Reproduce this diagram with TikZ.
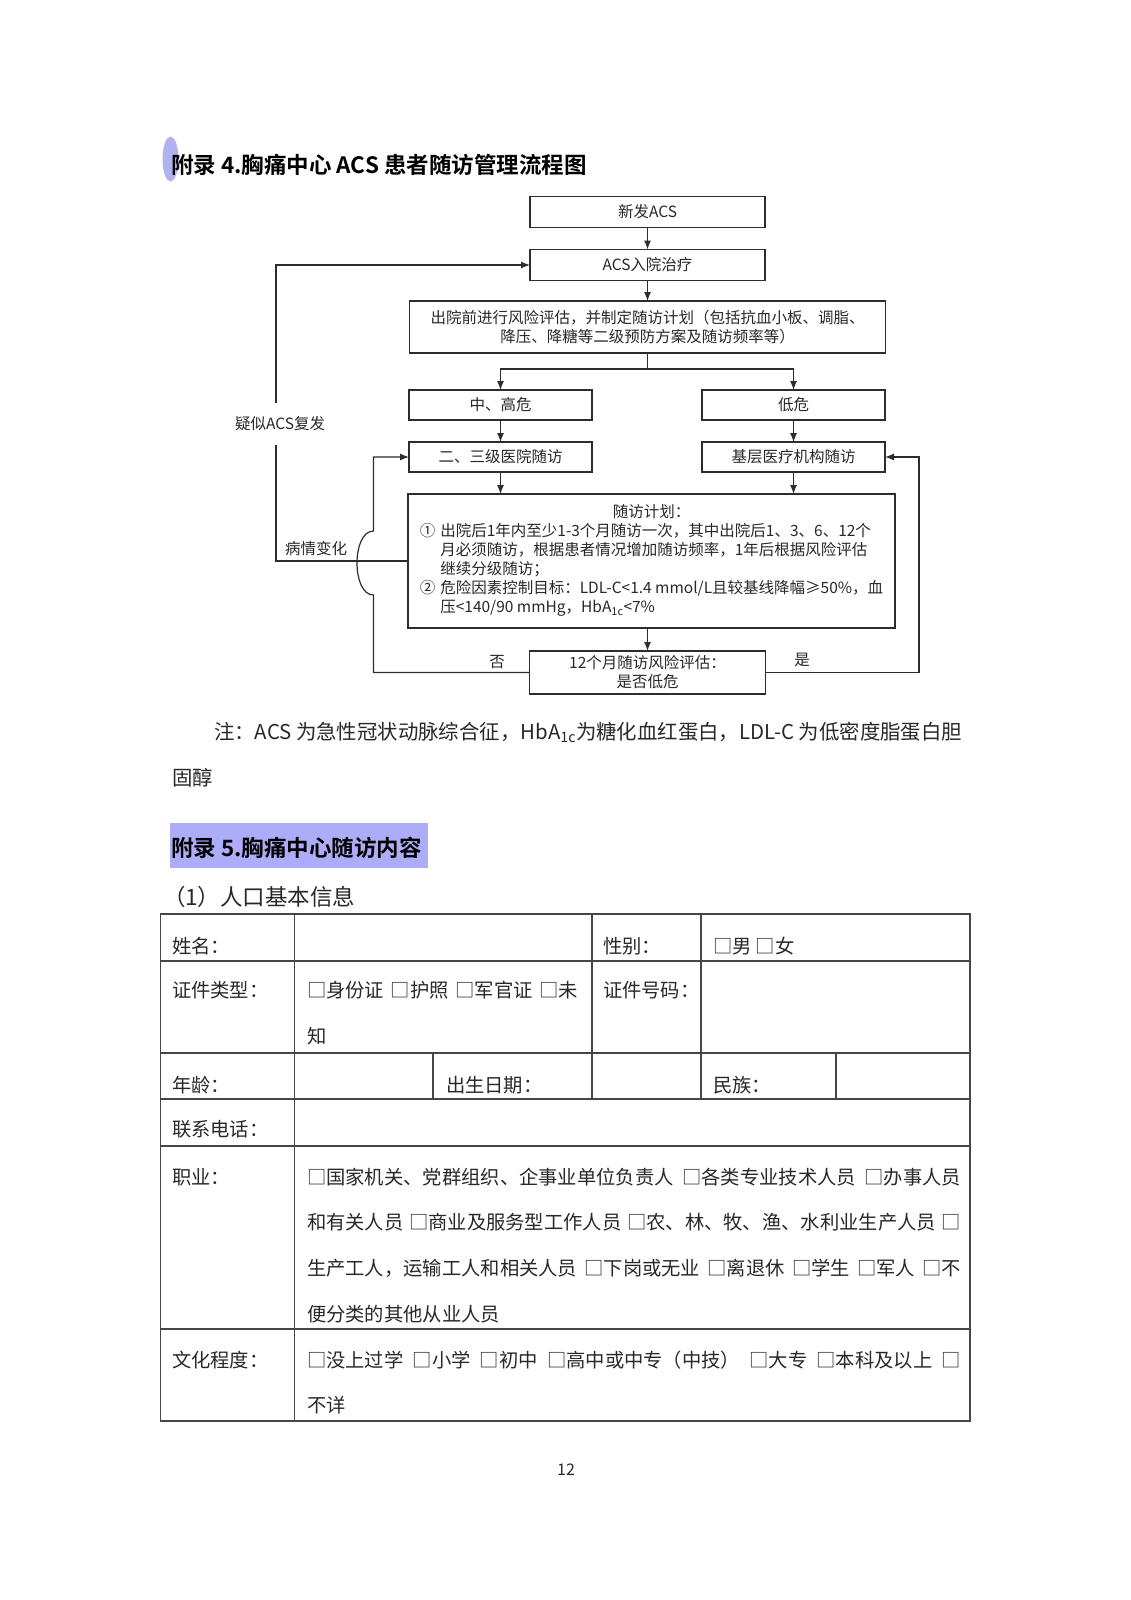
\documentclass[tikz,border=0pt]{standalone}
\usepackage{fontspec}
\setmainfont{Noto Sans CJK SC}[BoldFont={Noto Sans CJK SC Bold}]
\usepackage{tikz}
\usetikzlibrary{arrows.meta,calc,positioning}

\definecolor{linegray}{RGB}{45,45,45}
\definecolor{rulegray}{RGB}{70,70,70}
\definecolor{inkgray}{RGB}{40,40,40}
\definecolor{hlblue}{RGB}{172,172,248}
\definecolor{dotblue}{RGB}{178,178,240}

\begin{document}
\begin{tikzpicture}[x=1pt,y=-1pt,
  >={Latex[length=9pt,width=7pt]},
  every node/.style={inner sep=0pt,outer sep=0pt,text=inkgray},
  fcbox/.style={draw=linegray,line width=1.2pt,minimum height=30pt,
    font=\fontsize{15.5pt}{19pt}\selectfont},
  fclink/.style={draw=linegray,line width=1.2pt},
  fclabel/.style={font=\fontsize{15.5pt}{19pt}\selectfont},
  bodytext/.style={anchor=west,font=\fontsize{20.4pt}{26pt}\selectfont},
  headtext/.style={anchor=west,font=\fontsize{22.5pt}{27pt}\selectfont\bfseries,
    text=black},
  celltext/.style={anchor=west,font=\fontsize{19.3pt}{24pt}\selectfont},
  tablerule/.style={draw=rulegray,line width=1.1pt},
]
\fill[white] (0,0) rectangle (1131,1600);

% heading of appendix 4
\fill[dotblue] (170.5,159) ellipse [x radius=8, y radius=22.5];
\node[headtext] (title4) at (171,165) {附录 4.胸痛中心 ACS 患者随访管理流程图};

% the main column
\node[fcbox,minimum width=235pt,minimum height=31pt] (newacs) at (647.5,212) {新发ACS};
\node[fcbox,minimum width=235pt,minimum height=31pt] (admit) at (647.5,265) {ACS入院治疗};
\node[fcbox,minimum width=476pt,minimum height=52pt,align=center] (assess) at (647.5,327)
  {出院前进行风险评估，并制定随访计划（包括抗血小板、调脂、\\降压、降糖等二级预防方案及随访频率等）};

% the two risk levels
\node[fcbox,minimum width=183pt] (highrisk) at (500.5,405) {中、高危};
\node[fcbox,minimum width=183pt] (lowrisk) at (793.5,405) {低危};
\node[fcbox,minimum width=183pt] (tertiary) at (500.5,457) {二、三级医院随访};
\node[fcbox,minimum width=183pt] (primary) at (793.5,457) {基层医疗机构随访};

% follow-up plan and review
\node[fcbox,minimum width=487pt,minimum height=134pt] (plan) at (651.5,561) {%
  \begin{tabular}{@{}c@{\hspace{5pt}}l@{}}
  \multicolumn{2}{c}{随访计划：}\\
  ① & 出院后1年内至少1-3个月随访一次，其中出院后1、3、6、12个\\
    & 月必须随访，根据患者情况增加随访频率，1年后根据风险评估\\
    & 继续分级随访；\\
  ② & 危险因素控制目标：LDL-C<1.4 mmol/L且较基线降幅≥50\%，血\\
    & 压<140/90 mmHg，HbA\textsubscript{1c}<7\%
  \end{tabular}};
\node[fcbox,minimum width=236pt,minimum height=43pt,align=center] (review) at (647.5,672.5)
  {12个月随访风险评估：\\是否低危};

% straight links
\coordinate (split) at (647.5,369);
\draw[fclink,->] (newacs) -- (admit);
\draw[fclink,->] (admit) -- (assess);
\draw[fclink] (assess.south) -- (split);
\draw[fclink,->] (split) -| (highrisk.north);
\draw[fclink,->] (split) -| (lowrisk.north);
\draw[fclink,->] (highrisk) -- (tertiary);
\draw[fclink,->] (lowrisk) -- (primary);
\draw[fclink,->] (tertiary.south) -- (tertiary.south |- plan.north);
\draw[fclink,->] (primary.south) -- (primary.south |- plan.north);
\draw[fclink,->] (plan.south -| review.north) -- (review.north);

% relapse loop
\node[fclabel,inner ysep=14pt] (relapse) at (280,424) {疑似ACS复发};
\node[fclabel] (change) at (316,549) {病情变化};
\draw[fclink] (plan.west) -- (plan.west -| 276,0) -- ([xshift=-4pt]relapse.south);
\draw[fclink,->] ([xshift=-4pt]relapse.north) |- (admit.west);

% no / yes loops
\coordinate (hop) at (373.5,561);
\coordinate (yesturn) at (919,672.5);
\draw[fclink,->] (review.west) -| ($(hop)+(0,34)$)
  .. controls ($(hop)+(-22,34)$) and ($(hop)+(-22,-30)$) .. ($(hop)+(0,-30)$)
  |- (tertiary.west);
\draw[fclink,->] (review.east) -- (yesturn) |- (primary.east);
\node[fclabel] (nolbl) at (497,662) {否};
\node[fclabel] (yeslbl) at (802,660) {是};

% note
\node[bodytext] (note) at (214,732)
  {注：ACS 为急性冠状动脉综合征，HbA\textsubscript{1c}为糖化血红蛋白，LDL-C 为低密度脂蛋白胆};
\node[bodytext] (notecont) at (172,778) {固醇};

% heading of appendix 5
\fill[hlblue] (170,823) rectangle (428,868);
\node[headtext] (title5) at (171,848) {附录 5.胸痛中心随访内容};
\node[anchor=west,font=\fontsize{22.5pt}{28pt}\selectfont] (sect1) at (163,897) {（1）人口基本信息};

% the table rules
\draw[tablerule] (160.5,914) rectangle (970,1421);
\foreach \y in {961,1053,1099,1146,1329}
  \draw[tablerule] (160.5,\y) -- (970,\y);
\draw[tablerule] (294.5,914) -- (294.5,1421);
\foreach \x in {592,701}
  \draw[tablerule] (\x,914) -- (\x,1099);
\foreach \x in {433,836}
  \draw[tablerule] (\x,1053) -- (\x,1099);

% the table texts
\node[celltext] (name) at (172,946) {姓名：};
\node[celltext] (sex) at (603,946) {性别：};
\node[celltext] (sexval) at (713,946) {□男 □女};
\node[celltext] (idtype) at (172,990) {证件类型：};
\node[celltext] (idval1) at (307,990) {\makebox[271pt][s]{□身份证 □护照 □军官证 □未}};
\node[celltext] (idval2) at (307,1036) {知};
\node[celltext] (idno) at (603,990) {证件号码：};
\node[celltext] (age) at (172,1085) {年龄：};
\node[celltext] (birth) at (446,1085) {出生日期：};
\node[celltext] (ethnic) at (713,1085) {民族：};
\node[celltext] (phone) at (172,1129) {联系电话：};
\node[celltext] (job) at (172,1177) {职业：};
\node[celltext] (job1) at (307,1177)
  {\makebox[654pt][s]{□国家机关、党群组织、企事业单位负责人 □各类专业技术人员 □办事人员}};
\node[celltext] (job2) at (307,1222)
  {\makebox[654pt][s]{和有关人员 □商业及服务型工作人员 □农、林、牧、渔、水利业生产人员 □}};
\node[celltext] (job3) at (307,1268)
  {\makebox[654pt][s]{生产工人，运输工人和相关人员 □下岗或无业 □离退休 □学生 □军人 □不}};
\node[celltext] (job4) at (307,1314) {便分类的其他从业人员};
\node[celltext] (edu) at (172,1360) {文化程度：};
\node[celltext] (edu1) at (307,1360)
  {\makebox[654pt][s]{□没上过学 □小学 □初中 □高中或中专（中技） □大专 □本科及以上 □}};
\node[celltext] (edu2) at (307,1405) {不详};

% page number
\node[font=\fontsize{16pt}{19pt}\selectfont] (pageno) at (566,1470) {12};
\end{tikzpicture}
\end{document}
